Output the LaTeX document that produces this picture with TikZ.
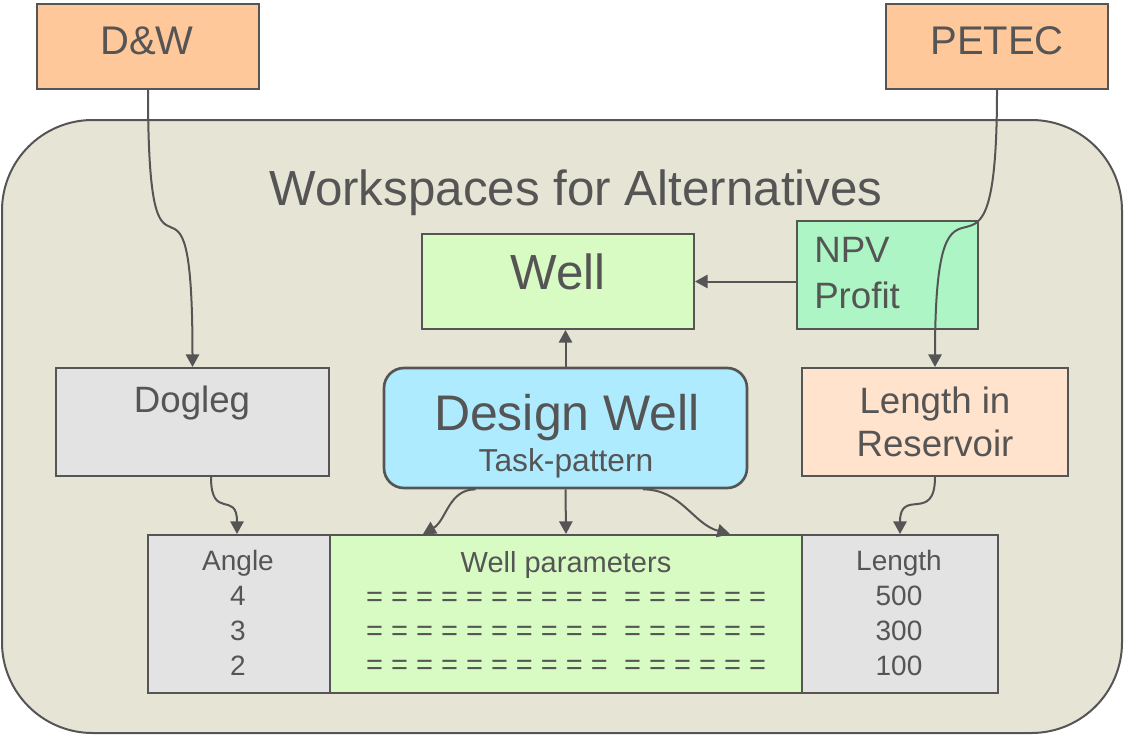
\documentclass[tikz,border=0pt]{standalone}
\usepackage{fontspec}
\setmainfont{Liberation Sans}
\usetikzlibrary{arrows.meta,calc}
\definecolor{ink}{RGB}{85,85,85}
\definecolor{peach}{RGB}{255,200,155}
\definecolor{sand}{RGB}{230,229,213}
\definecolor{wellgreen}{RGB}{216,251,196}
\definecolor{npvgreen}{RGB}{173,245,196}
\definecolor{panelgrey}{RGB}{227,227,227}
\definecolor{taskblue}{RGB}{175,235,255}
\definecolor{lightpeach}{RGB}{255,227,205}

\begin{document}
\begin{tikzpicture}[x=0.75pt,y=0.75pt,yscale=-1,xscale=1,
  box/.style={draw=ink,line width=1.5pt,inner sep=0pt},
  lbl/.style={text=ink,inner sep=0.75pt},
  conn/.style={draw=ink,line width=1.5pt,-{Triangle[length=9.5pt,width=10pt]}}]

\useasboundingbox (0,0) rectangle (1124,735);

\draw [draw=ink,line width=1.5pt,fill=sand,rounded corners=68pt] (2,120) rectangle (1122,733) ;

\node [lbl,anchor=base,font=\fontsize{37}{44}\selectfont] (title) at (576,205) {Workspaces for Alternatives};


\node [box,fill=peach,minimum width=166.5pt,minimum height=63.75pt] (dw) at (148,46.5) {};

\node [box,fill=peach,minimum width=166.5pt,minimum height=63.75pt] (petec) at (997,46.5) {};

\node [box,fill=wellgreen,minimum width=204pt,minimum height=71.25pt] (well) at (558,281.5) {};

\node [box,fill=npvgreen,minimum width=135.75pt,minimum height=81pt] (npv) at (887.5,275) {};

\node [box,fill=panelgrey,minimum width=204.75pt,minimum height=81pt] (dogleg) at (192.5,422) {};

\node [box,fill=taskblue,line width=2pt,rounded corners=15pt,minimum width=272.25pt,minimum height=90pt] (design) at (565.5,428) {};

\node [box,fill=lightpeach,minimum width=199.5pt,minimum height=81pt] (lres) at (935,422) {};

\node [box,fill=panelgrey,minimum width=136.5pt,minimum height=118.5pt] (angle) at (239,614) {};

\node [box,fill=wellgreen,minimum width=354pt,minimum height=118.5pt] (params) at (566,614) {};

\node [box,fill=panelgrey,minimum width=147pt,minimum height=118.5pt] (length) at (900,614) {};


\node [lbl,anchor=base,font=\fontsize{30}{36}\selectfont] (dwtext) at (147,55) {D\&W};

\node [lbl,anchor=base,font=\fontsize{30}{36}\selectfont] (petectext) at (997,55) {PETEC};

\node [lbl,anchor=base,font=\fontsize{37}{44}\selectfont] (welltext) at (558,289) {Well};

\node [lbl,anchor=west,align=left,font=\fontsize{27.5}{34.5}\selectfont] (npvtext) at (813,273) {NPV\\Profit};

\node [lbl,anchor=base,font=\fontsize{27.5}{33}\selectfont] (doglegtext) at (192,412) {Dogleg};

\node [lbl,anchor=base,font=\fontsize{37.5}{45}\selectfont] (designtext) at (567,430) {Design Well};

\node [lbl,anchor=base,font=\fontsize{23.8}{28}\selectfont] (tasktext) at (566,471) {Task-pattern};

\node [lbl,align=center,font=\fontsize{27.5}{32.25}\selectfont] (lrestext) at (935,421.5) {Length in\\Reservoir};

\node [lbl,align=center,font=\fontsize{21}{26.25}\selectfont] (angletext) at (238,612.5) {Angle\\4\\3\\2};

\node [lbl,align=center,font=\fontsize{21.75}{25.7}\selectfont] (paramstext) at (566,613) {Well parameters\\= = = = = = = = = =\ \ = = = = = =\\= = = = = = = = = =\ \ = = = = = =\\= = = = = = = = = =\ \ = = = = = =};

\node [lbl,align=center,font=\fontsize{21}{26.25}\selectfont] (lengthtext) at (899,612.5) {Length\\500\\300\\100};


\draw [conn] (dw.south) to[out=90,in=-90,looseness=2.3] (dogleg.north);

\draw [conn] (petec.south) to[out=90,in=-90,looseness=2.3] (lres.north);

\draw [conn] ($(dogleg.south)+(18.5,0)$) to[out=90,in=-90,looseness=1.8] ($(angle.north)+(-2,0)$);

\draw [conn] (lres.south) to[out=90,in=-90,looseness=1.8] (length.north);

\draw [conn] ($(design.south)+(-90,0)$) to[out=180,in=-30] ($(params.north)+(-143,0)$);

\draw [conn] (design.south) -- (params.north);

\draw [conn] ($(design.south)+(77.5,0)$) to[out=0,in=-165] ($(params.north)+(164,0)$);

\draw [conn] (design.north) -- (design.north |- well.south);

\draw [conn] (npv.west |- well.east) -- (well.east);

\end{tikzpicture}
\end{document}
